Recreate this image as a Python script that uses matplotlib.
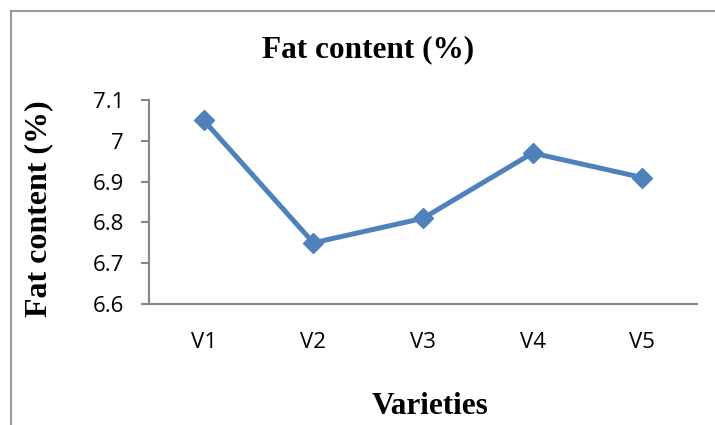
import matplotlib
matplotlib.use("Agg")
import matplotlib.pyplot as plt
from matplotlib.lines import Line2D

categories = ["V1", "V2", "V3", "V4", "V5"]
fat_content = [7.05, 6.75, 6.81, 6.97, 6.91]
y_ticks = [6.6, 6.7, 6.8, 6.9, 7.0, 7.1]
y_tick_labels = ["6.6", "6.7", "6.8", "6.9", "7", "7.1"]

W, H = 715, 425
fig = plt.figure(figsize=(W / 100, H / 100), dpi=100)

# chart-area border (only top and left edges visible, as in reference)
bx, by = 11.5 / W, 1 - 10.5 / H
fig.add_artist(Line2D([bx, 1.0], [by, by], transform=fig.transFigure,
                      color="#868686", linewidth=1.2))
fig.add_artist(Line2D([bx, bx], [by, 0.0], transform=fig.transFigure,
                      color="#868686", linewidth=1.2))

ax = fig.add_axes([149 / W, 1 - 304 / H, (697 - 149) / W, (304 - 100) / H])
x = list(range(len(categories)))
ax.plot(x, fat_content, color="#4F81BD", linewidth=3.6, marker="D", markersize=10,
        markerfacecolor="#4F81BD", markeredgecolor="#4F81BD", clip_on=False)

ax.set_xlim(-0.5, len(categories) - 0.5)
ax.set_ylim(6.6, 7.1)
ax.set_xticks(x)
ax.set_xticklabels(categories)
ax.set_yticks(y_ticks)
ax.set_yticklabels(y_tick_labels)

for s in ["top", "right"]:
    ax.spines[s].set_visible(False)
for s in ["left", "bottom"]:
    ax.spines[s].set_color("#868686")
    ax.spines[s].set_linewidth(1.5)

tick_font = "Open Sans"
ax.tick_params(axis="y", direction="out", length=6, width=1.5, color="#868686",
               pad=12, labelsize=16)
ax.tick_params(axis="x", length=0, pad=20, labelsize=16)
for lab in ax.get_xticklabels() + ax.get_yticklabels():
    lab.set_fontfamily(tick_font)
    lab.set_color("black")

fig.text(368 / W, 1 - 50 / H, "Fat content (%)", ha="center", va="center",
         fontfamily="Liberation Serif", fontweight="bold", fontsize=22.5)
fig.text(39 / W, 1 - 209 / H, "Fat content (%)", ha="center", va="center", rotation=90,
         fontfamily="Liberation Serif", fontweight="bold", fontsize=23)
fig.text(430 / W, 1 - 407 / H, "Varieties", ha="center", va="center",
         fontfamily="Liberation Serif", fontweight="bold", fontsize=22.5)

fig.savefig("out.png", dpi=100)
